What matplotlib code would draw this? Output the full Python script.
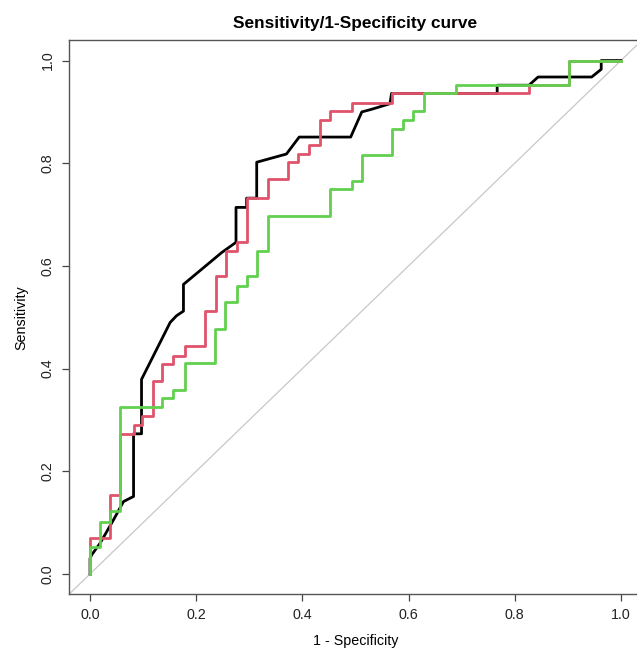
import matplotlib
matplotlib.use('Agg')
import matplotlib.pyplot as plt

plt.rcParams['font.family'] = ['Liberation Sans', 'DejaVu Sans']

# black curve (has some sloped bits, so plain vertices)
black_fpr = [0, 0, 0.003, 0.019, 0.044, 0.063, 0.082, 0.082, 0.097, 0.097, 0.151, 0.163,
             0.176, 0.176, 0.248, 0.275, 0.275, 0.295, 0.295, 0.314, 0.314, 0.37, 0.394,
             0.491, 0.512, 0.53, 0.565, 0.568, 0.767, 0.767, 0.827, 0.844, 0.945, 0.963,
             0.963, 1.0]
black_tpr = [0, 0.03, 0.037, 0.06, 0.105, 0.141, 0.151, 0.273, 0.273, 0.379, 0.49, 0.503,
             0.512, 0.564, 0.626, 0.646, 0.714, 0.714, 0.732, 0.732, 0.802, 0.818, 0.851,
             0.851, 0.9, 0.905, 0.916, 0.936, 0.936, 0.952, 0.952, 0.968, 0.968, 0.983,
             1.0, 1.0]

# red curve, step corners
red_fpr = [0, 0, 0.038, 0.0565, 0.082, 0.097, 0.118, 0.135, 0.157, 0.179, 0.217, 0.237,
           0.256, 0.276, 0.295, 0.335, 0.373, 0.392, 0.413, 0.433, 0.453, 0.493, 0.568,
           0.827, 0.903, 1.0]
red_tpr = [0, 0.07, 0.154, 0.273, 0.291, 0.307, 0.376, 0.408, 0.424, 0.444, 0.512, 0.581,
           0.63, 0.646, 0.732, 0.77, 0.802, 0.818, 0.835, 0.885, 0.901, 0.918, 0.936,
           0.952, 1.0, 1.0]

# green curve, step corners
green_fpr = [0, 0, 0.019, 0.038, 0.0565, 0.135, 0.157, 0.179, 0.235, 0.254, 0.276, 0.295,
             0.315, 0.335, 0.453, 0.493, 0.512, 0.568, 0.589, 0.609, 0.629, 0.689, 0.903, 1.0]
green_tpr = [0, 0.053, 0.102, 0.122, 0.325, 0.342, 0.359, 0.41, 0.478, 0.529, 0.561, 0.581,
             0.63, 0.698, 0.75, 0.766, 0.816, 0.867, 0.885, 0.902, 0.936, 0.952, 1.0, 1.0]

ticks = [0.0, 0.2, 0.4, 0.6, 0.8, 1.0]

fig = plt.figure(figsize=(6.37, 6.5), dpi=100)
ax = fig.add_axes([0.108, 0.0854, 0.9, 0.853])

ax.axline((0, 0), (1, 1), color='#c8c8c8', lw=0.9, zorder=1)
ax.plot(black_fpr, black_tpr, color='black', lw=2, zorder=2)
ax.plot(red_fpr, red_tpr, color='#DF536B', lw=2, drawstyle='steps-post', zorder=3)
ax.plot(green_fpr, green_tpr, color='#61D04F', lw=2, drawstyle='steps-post', zorder=4)

ax.set_xlim(-0.04, 1.04)
ax.set_ylim(-0.04, 1.04)
ax.set_xticks(ticks)
ax.set_yticks(ticks)
ax.set_xticklabels(['%.1f' % t for t in ticks])
ax.set_yticklabels(['%.1f' % t for t in ticks], rotation=90, va='center')
ax.tick_params(direction='out', length=5, width=0.9, colors='#444444', labelsize=10.3,
               labelcolor='#222222', pad=5)
for s in ax.spines.values():
    s.set_color('#555555')
    s.set_linewidth(1)

ax.set_xlabel('1 - Specificity', fontsize=10.3, labelpad=8.5)
ax.set_ylabel('Sensitivity', fontsize=10.3, labelpad=9)
ax.set_title('Sensitivity/1-Specificity curve', fontsize=12.4, fontweight='bold', pad=9)

fig.savefig('out.png', dpi=100)
